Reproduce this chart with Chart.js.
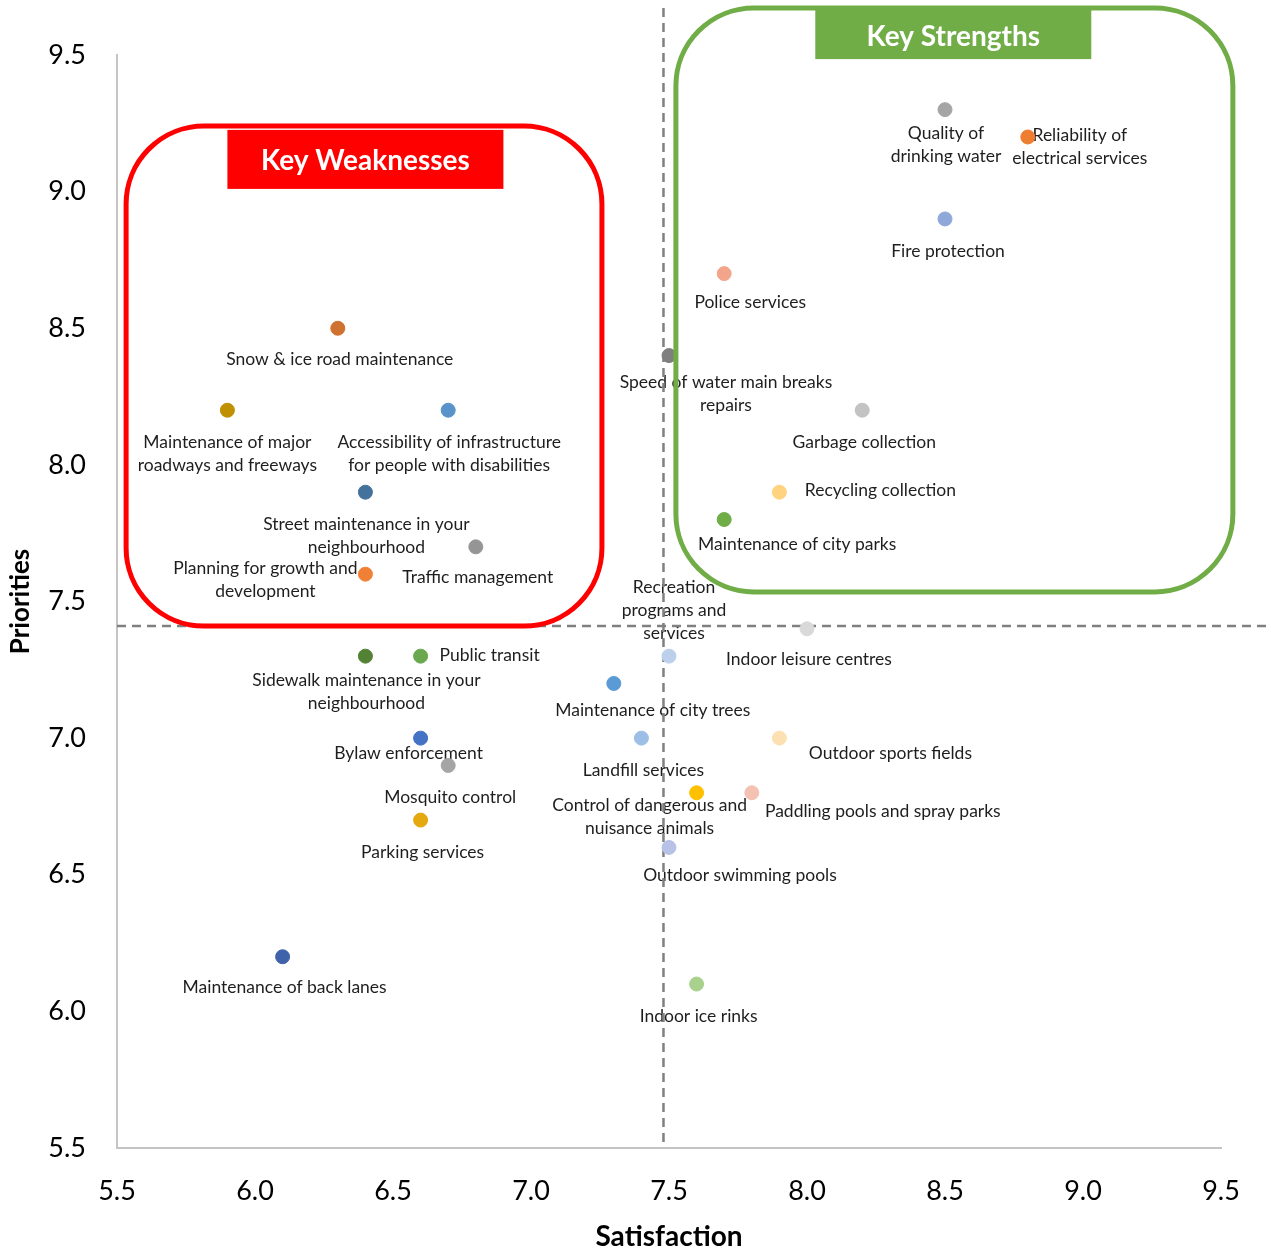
<!DOCTYPE html>
<html>
<head>
<meta charset="utf-8">
<script src="https://cdn.jsdelivr.net/npm/chart.js@4.4.0/dist/chart.umd.min.js"></script>
<style>
  body { margin: 0; background: #fff; }
  #wrap { width: 1271px; height: 1250px; position: relative; }
</style>
</head>
<body>
<div id="wrap"><canvas id="chart"></canvas></div>
<script>
// services (line breaks as shown in the chart)
const services = [
  "Quality of\ndrinking water",
  "Reliability of\nelectrical services",
  "Fire protection",
  "Police services",
  "Speed of water main breaks\nrepairs",
  "Garbage collection",
  "Recycling collection",
  "Maintenance of city parks",
  "Snow & ice road maintenance",
  "Maintenance of major\nroadways and freeways",
  "Accessibility of infrastructure\nfor people with disabilities",
  "Street maintenance in your\nneighbourhood",
  "Traffic management",
  "Planning for growth and\ndevelopment",
  "Recreation\nprograms and\nservices",
  "Indoor leisure centres",
  "Sidewalk maintenance in your\nneighbourhood",
  "Public transit",
  "Maintenance of city trees",
  "Bylaw enforcement",
  "Mosquito control",
  "Landfill services",
  "Outdoor sports fields",
  "Control of dangerous and\nnuisance animals",
  "Paddling pools and spray parks",
  "Parking services",
  "Outdoor swimming pools",
  "Maintenance of back lanes",
  "Indoor ice rinks"
];
const satisfaction = [8.5, 8.8, 8.5, 7.7, 7.5, 8.2, 7.9, 7.7, 6.3, 5.9, 6.7, 6.4, 6.8, 6.4, 7.5, 8.0, 6.4, 6.6, 7.3, 6.6, 6.7, 7.4, 7.9, 7.6, 7.8, 6.6, 7.5, 6.1, 7.6];
const priorities   = [9.3, 9.2, 8.9, 8.7, 8.4, 8.2, 7.9, 7.8, 8.5, 8.2, 8.2, 7.9, 7.7, 7.6, 7.3, 7.4, 7.3, 7.3, 7.2, 7.0, 6.9, 7.0, 7.0, 6.8, 6.8, 6.7, 6.6, 6.2, 6.1];
const avgSatisfaction = 7.48;
const avgPriority = 7.41;
const tickValues = [5.5, 6.0, 6.5, 7.0, 7.5, 8.0, 8.5, 9.0, 9.5];

// style
const pointColors = [
  "#a5a5a5", "#ed7d31", "#8fa8da", "#f2a58a", "#7f7f7f", "#c3c3c3", "#ffd37f", "#70ad47",
  "#cf712f", "#bf9000", "#5993c9", "#44729d", "#959595", "#f08036", "#bcd0ec", "#d9d9d9",
  "#548235", "#6aa84f", "#5b9bd5", "#4472c4", "#a5a5a5", "#9dbfe6", "#fde0b2", "#ffc000",
  "#f4c2b3", "#e3a90f", "#b7c2e6", "#3f62aa", "#a9d18e"
];
// label offset [dx, dy of first line] from the point, in px
const labelOffsets = [
  [1, 24], [52, -2], [3, 32], [26, 29], [57, 27], [2, 32], [101, -2], [73, 25],
  [2, 31], [0, 32], [1, 32], [1, 32], [2, 31], [-100, -6], [5, -69], [2, 31],
  [1, 24], [69, -1], [39, 27], [-12, 15], [2, 32], [2, 32], [111, 15], [-47, 13],
  [131, 19], [2, 32], [71, 28], [2, 31], [2, 32]
];

const labelFont = "17.5px Lato, 'Open Sans', sans-serif";

const labelsPlugin = {
  id: "pointLabels",
  beforeDatasetsDraw(chart) {
    const ctx = chart.ctx;
    const xs = chart.scales.x, ys = chart.scales.y;
    ctx.save();
    ctx.font = labelFont;
    ctx.fillStyle = "#1e1e1e";
    ctx.textAlign = "center";
    ctx.textBaseline = "middle";
    services.forEach((name, i) => {
      const px = xs.getPixelForValue(satisfaction[i]) + labelOffsets[i][0];
      const py = ys.getPixelForValue(priorities[i]) + labelOffsets[i][1];
      name.split("\n").forEach((line, j) => ctx.fillText(line, px, py + j * 23));
    });

    // average lines
    const xa = xs.getPixelForValue(avgSatisfaction);
    const ya = ys.getPixelForValue(avgPriority);
    ctx.strokeStyle = "#808080";
    ctx.lineWidth = 2.5;
    ctx.setLineDash([9, 6]);
    ctx.beginPath();
    ctx.moveTo(xa, 8);
    ctx.lineTo(xa, chart.chartArea.bottom);
    ctx.moveTo(chart.chartArea.left, ya);
    ctx.lineTo(1268, ya);
    ctx.stroke();
    ctx.restore();
  }
};

const boxes = [
  { x0: 5.533, x1: 7.257, y0: 9.24, y1: 7.41, color: "#ff0000",
    title: "Key Weaknesses", tx0: 5.9, tx1: 6.9, ty0: 9.226, ty1: 9.01 },
  { x0: 7.525, x1: 9.543, y0: 9.672, y1: 7.535, color: "#70ad47",
    title: "Key Strengths", tx0: 8.03, tx1: 9.03, ty0: 9.665, ty1: 9.485 }
];

const boxesPlugin = {
  id: "quadrantBoxes",
  afterDatasetsDraw(chart) {
    const ctx = chart.ctx;
    const xs = chart.scales.x, ys = chart.scales.y;
    ctx.save();
    boxes.forEach(b => {
      const l = xs.getPixelForValue(b.x0), r = xs.getPixelForValue(b.x1);
      const t = ys.getPixelForValue(b.y0), bt = ys.getPixelForValue(b.y1);
      ctx.strokeStyle = b.color;
      ctx.lineWidth = 5;
      ctx.beginPath();
      ctx.roundRect(l, t, r - l, bt - t, 78);
      ctx.stroke();

      const tl = xs.getPixelForValue(b.tx0), tr = xs.getPixelForValue(b.tx1);
      const tt = ys.getPixelForValue(b.ty0), tb = ys.getPixelForValue(b.ty1);
      ctx.fillStyle = b.color;
      ctx.fillRect(tl, tt, tr - tl, tb - tt);
      ctx.fillStyle = "#ffffff";
      ctx.font = "bold 28px Lato, 'Open Sans', sans-serif";
      ctx.textAlign = "center";
      ctx.textBaseline = "middle";
      ctx.fillText(b.title, (tl + tr) / 2, (tt + tb) / 2 + 2);
    });
    ctx.restore();
  }
};

const canvas = document.getElementById("chart");
const tickFont = { family: "Lato, 'Open Sans', sans-serif", size: 27 };

new Chart(canvas, {
  type: "scatter",
  data: {
    datasets: [{
      label: "Services",
      data: services.map((s, i) => ({ x: satisfaction[i], y: priorities[i] })),
      backgroundColor: pointColors,
      borderColor: pointColors,
      pointRadius: 7,
      pointHoverRadius: 7
    }]
  },
  options: {
    responsive: true,
    maintainAspectRatio: false,
    animation: false,
    layout: { padding: { top: 55, right: 50, left: 0, bottom: 0 } },
    plugins: { legend: { display: false }, tooltip: { enabled: false } },
    scales: {
      x: {
        type: "linear",
        min: 5.5,
        max: 9.5,
        afterBuildTicks: s => { s.ticks = tickValues.map(v => ({ value: v })); },
        afterFit: s => { s.height = 102; },
        grid: { display: false, drawTicks: false },
        border: { display: true, color: "#c4c4c4", width: 2 },
        ticks: { color: "#000", font: tickFont, padding: 27, callback: v => v.toFixed(1), maxRotation: 0 },
        title: { display: true, text: "Satisfaction", color: "#000",
                 font: { family: "Lato, 'Open Sans', sans-serif", size: 28, weight: "bold", lineHeight: 0.9 },
                 padding: { top: 0, bottom: 0 } }
      },
      y: {
        type: "linear",
        min: 5.5,
        max: 9.5,
        afterBuildTicks: s => { s.ticks = tickValues.map(v => ({ value: v })); },
        afterFit: s => { s.width = 117; },
        grid: { display: false, drawTicks: false },
        border: { display: true, color: "#c4c4c4", width: 2 },
        ticks: { color: "#000", font: tickFont, padding: 31, callback: v => v.toFixed(1) },
        title: { display: true, text: "Priorities", color: "#000",
                 font: { family: "Lato, 'Open Sans', sans-serif", size: 26, weight: "bold" },
                 padding: { top: 5, bottom: 0 } }
      }
    }
  },
  plugins: [labelsPlugin, boxesPlugin]
});
</script>
</body>
</html>
